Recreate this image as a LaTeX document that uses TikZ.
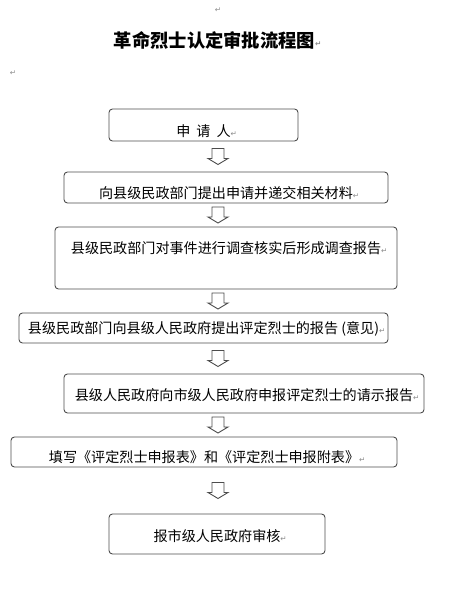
\documentclass[tikz,border=0pt]{standalone}
\usepackage{fontspec}
\usetikzlibrary{calc}
\newfontfamily\cjk{Noto Sans CJK SC}
\newfontfamily\dejavu{DejaVu Sans}
\definecolor{LineClr}{rgb}{0.3,0.3,0.3}
\definecolor{MarkClr}{rgb}{0.55,0.55,0.55}

\newcommand\retmark{{\dejavu\fontsize{7.5}{8}\selectfont\color{MarkClr}↵}}

\tikzset{
  box/.style={draw=LineClr,line width=0.9pt,rounded corners=3.5pt,inner sep=0pt,
    font=\cjk\fontsize{14.1}{16}\selectfont,text depth=0pt},
  hollow/.style={draw=LineClr,line width=0.9pt,fill=white,line join=miter},
  ret/.style={inner sep=0pt}
}

% hollow down arrow between two boxes
\newcommand\flowarrow[2]{%
  \draw[hollow] let \p1=(#1.south), \p2=(#2.north), \n1={(\y1+\y2)/2} in
    (212pt,\n1+8pt) -- (224pt,\n1+8pt) -- (224pt,\n1-2pt) -- (228pt,\n1-2pt)
    -- (218pt,\n1-8pt) -- (208pt,\n1-2pt) -- (212pt,\n1-2pt) -- cycle;}

\begin{document}
\begin{tikzpicture}[x=1pt,y=-1pt]
\useasboundingbox (0,0) rectangle (454,609);

\node[ret] (r0) at (218,10) {\retmark};
\node[ret] (r1) at (13,73) {\retmark};
\node[inner sep=0pt,font=\cjk\bfseries\fontsize{18.3}{20}\selectfont] (title) at (214.5,40)
  {革命烈士认定审批流程图\rlap{\raisebox{1pt}{\retmark}}};

\node[box,minimum width=189pt,minimum height=32pt,text height=22.2pt] (b1) at (203.5,125)
  {申\hspace{6pt}请\hspace{6pt}人\rlap{\retmark}};
\node[box,minimum width=324pt,minimum height=31pt,text height=21.2pt] (b2) at (226,187.5)
  {向县级民政部门提出申请并递交相关材料\rlap{\retmark}};
\node[box,minimum width=342pt,minimum height=62pt,text height=0pt,text depth=9.8pt] (b3) at (226,258)
  {县级民政部门对事件进行调查核实后形成调查报告\rlap{\retmark}};
\node[box,minimum width=369pt,minimum height=30pt,text height=10.2pt] (b4) at (203.5,328)
  {县级民政部门向县级人民政府提出评定烈士的报告 (意见)\rlap{\retmark}};
\node[box,minimum width=360pt,minimum height=39pt,text height=14.2pt] (b5) at (244,393.5)
  {县级人民政府向市级人民政府申报评定烈士的请示报告\rlap{\retmark}};
\node[box,minimum width=386pt,minimum height=30pt,text height=20.2pt] (b6) at (204,452)
  {填写《评定烈士申报表》和《评定烈士申报附表》\rlap{\retmark}};
\node[box,minimum width=216pt,minimum height=40pt,text height=14.2pt] (b7) at (217,534)
  {报市级人民政府审核\rlap{\retmark}};

\foreach \a/\b in {b1/b2,b2/b3,b3/b4,b4/b5,b5/b6,b6/b7}
  \flowarrow{\a}{\b};

\end{tikzpicture}
\end{document}
